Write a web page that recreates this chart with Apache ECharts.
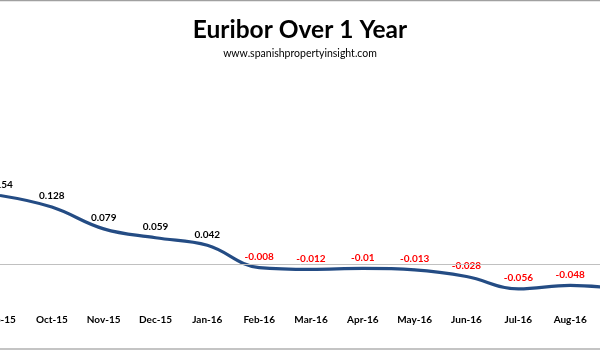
<!DOCTYPE html>
<html>
<head>
<meta charset="utf-8">
<script src="https://cdn.jsdelivr.net/npm/echarts@6/dist/echarts.min.js"></script>
<style>
  html, body { margin: 0; padding: 0; background: #fff; }
  #chart { width: 600px; height: 350px; }
</style>
</head>
<body>
<div id="chart"></div>
<script>
// Monthly 12-month Euribor, Sep 2015 – Sep 2016
const months = ['Sep-15', 'Oct-15', 'Nov-15', 'Dec-15', 'Jan-16', 'Feb-16', 'Mar-16',
                'Apr-16', 'May-16', 'Jun-16', 'Jul-16', 'Aug-16', 'Sep-16'];
const euribor = [0.154, 0.128, 0.079, 0.059, 0.042, -0.008, -0.012,
                 -0.01, -0.013, -0.028, -0.056, -0.048, -0.057];

const titleText = 'Euribor Over 1 Year';
const sourceText = 'www.spanishpropertyinsight.com';

const lineColor = '#244c84';
const negColor = '#ff0000';
const posColor = '#000000';

const seriesData = euribor.map(v => ({
  value: v,
  label: { color: v < 0 ? negColor : posColor }
}));

const chart = echarts.init(document.getElementById('chart'));
chart.setOption({
  animation: false,
  backgroundColor: '#ffffff',
  title: {
    text: titleText,
    subtext: sourceText,
    left: 'center',
    top: 13,
    itemGap: 5,
    textStyle: { fontFamily: 'Lato', fontWeight: 'bold', fontSize: 24.5, color: '#000' },
    subtextStyle: { fontFamily: 'Lato', fontSize: 10.5, color: '#000' }
  },
  graphic: [
    { type: 'line', shape: { x1: 0, y1: 0.5, x2: 600, y2: 0.5 }, style: { stroke: '#a0a0a0', lineWidth: 1.5 } },
    { type: 'line', shape: { x1: 0, y1: 349, x2: 600, y2: 349 }, style: { stroke: '#b0b0b0', lineWidth: 1.5 } }
  ],
  // plot area runs past both edges of the canvas
  grid: { left: 0, right: -22, top: 175, bottom: 41.5, containLabel: false, outerBoundsMode: 'none' },
  xAxis: {
    type: 'category',
    data: months,
    boundaryGap: false,
    axisLine: { show: false, onZero: false },
    axisTick: { show: false },
    axisLabel: {
      interval: 0, margin: 6, hideOverlap: false,
      fontFamily: 'Lato', fontWeight: 'bold', fontSize: 10, color: '#000'
    },
    splitLine: { show: false }
  },
  yAxis: {
    type: 'value',
    min: -0.1,
    max: 0.2,
    show: false,
    splitLine: { show: false }
  },
  series: [{
    type: 'line',
    data: seriesData,
    smooth: 0.4,
    symbol: 'circle',
    symbolSize: 2,
    itemStyle: { color: lineColor },
    lineStyle: { color: lineColor, width: 3.2 },
    label: {
      show: true,
      position: 'top',
      distance: 5,
      fontFamily: 'Lato',
      fontWeight: 'bold',
      fontSize: 10,
      formatter: p => String(p.value)
    },
    labelLayout: { hideOverlap: false },
    markLine: {
      silent: true,
      symbol: 'none',
      label: { show: false },
      lineStyle: { color: '#c0c0c0', width: 1, type: 'solid' },
      data: [{ yAxis: 0 }]
    },
    z: 3
  }]
});
</script>
</body>
</html>
